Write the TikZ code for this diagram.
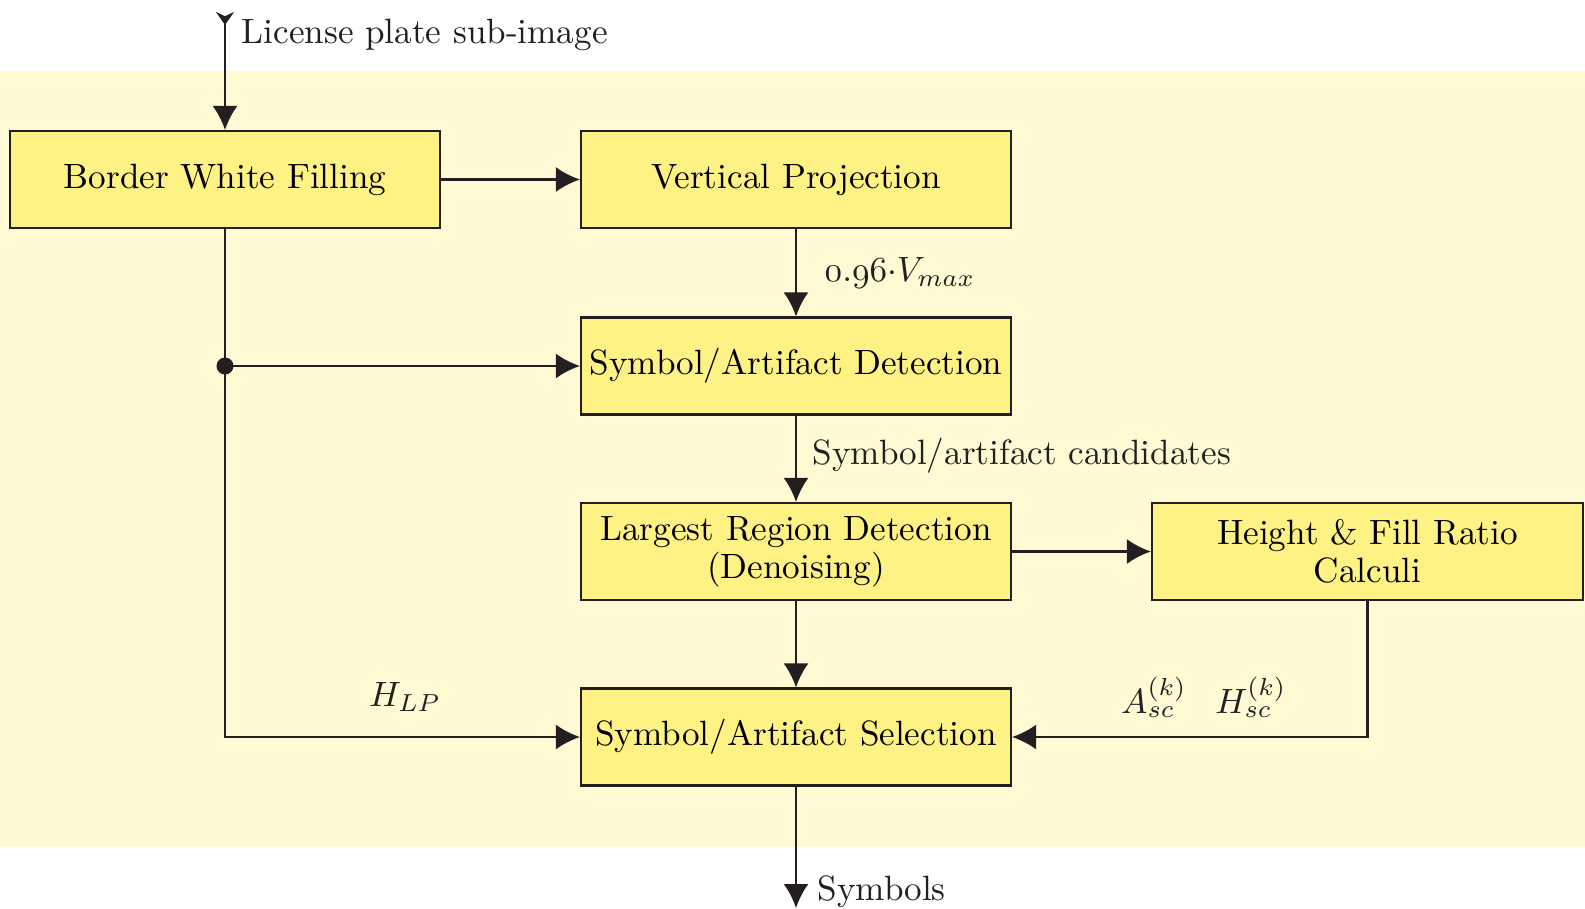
\documentclass[tikz,border=0pt]{standalone}
\usetikzlibrary{arrows.meta,positioning}
\definecolor{bandyellow}{HTML}{FFFAD4}
\definecolor{boxyellow}{HTML}{FFF285}
\definecolor{inkgray}{HTML}{231F20}
\begin{document}
\begin{tikzpicture}[
  font=\fontsize{10}{10.8}\selectfont,
  block/.style={draw=inkgray, line width=0.6pt, fill=boxyellow,
    minimum width=4.30cm, minimum height=0.97cm, inner sep=0pt, align=center},
  flow/.style={draw=inkgray, line width=0.7pt,
    -{Latex[length=2.4mm,width=2.5mm]}},
  lbl/.style={inner sep=0pt, text=inkgray}
]
\useasboundingbox (0,0) rectangle (15.85,9.08);
% background band behind the processing stages
\fill[bandyellow] (0,0.61) rectangle (15.85,8.37);

% processing blocks
\node[block] (bwf) at (2.25,7.285) {Border White Filling};
\node[block] (vp)  at (7.96,7.285) {Vertical Projection};
\node[block] (sad) at (7.96,5.42)  {Symbol/Artifact Detection};
\node[block] (lrd) at (7.96,3.565) {\raisebox{0pt}[0pt][0pt]{}Largest Region Detection\\(Denoising)};
\node[block, minimum width=4.31cm] (hfr) at (13.675,3.565) {Height \& Fill Ratio\\Calculi};
\node[block] (sas) at (7.96,1.71)  {Symbol/Artifact Selection};

% input and output ends
\coordinate (in)  at (2.25,8.96);
\coordinate (out) at (7.96,0);
\coordinate (split) at (bwf.south |- sad.west);
\coordinate (corner) at (bwf.south |- sas.west);
\coordinate (hturn) at (hfr.south |- sas.east);

\draw[flow, {Stealth[reversed,length=1.3mm,width=1.8mm]}-{Latex[length=2.4mm,width=2.5mm]}] (in) -- (bwf.north);
\draw[flow] (bwf) -- (vp);
\draw[flow] (vp) -- (sad);
\draw[flow] (sad) -- (lrd);
\draw[flow] (lrd) -- (hfr);
\draw[flow] (lrd) -- (sas);
\draw[flow] (split) -- (sad.west);
\draw[flow] (bwf.south) -- (corner) -- (sas.west);
\draw[flow] (hfr.south) -- (hturn) -- (sas.east);
\draw[flow] (sas) -- (out);
\fill[inkgray] (split) circle (0.085);

% labels
\node[lbl, anchor=west] (lin) at (2.41,8.73) {License plate sub-image};
\node[lbl, anchor=west] (lvm) at (8.24,6.35) {$\oldstylenums{0}.\oldstylenums{96}{\cdot}V_{max}$};
\node[lbl, anchor=west] (lcand) at (8.12,4.52) {Symbol/artifact candidates};
\node[lbl] (lhlp) at (4.05,2.11) {$H_{LP}$};
\node[lbl] (lasc) at (11.54,2.11) {$A_{sc}^{(k)}$};
\node[lbl] (lhsc) at (12.51,2.11) {$H_{sc}^{(k)}$};
\node[lbl, anchor=west] (lsym) at (8.17,0.16) {Symbols};
\end{tikzpicture}
\end{document}
